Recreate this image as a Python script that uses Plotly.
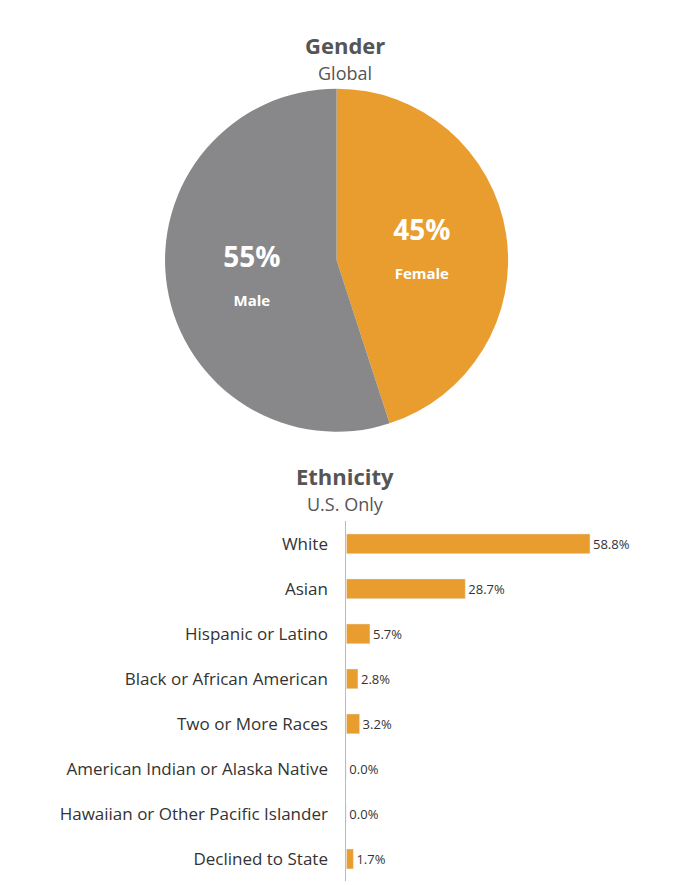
import plotly.graph_objects as go

gender_labels = ["Female", "Male"]
gender_values = [45, 55]
gender_colors = ["#E89D2E", "#88888A"]

eth_categories = ["White", "Asian", "Hispanic or Latino", "Black or African American",
                  "Two or More Races", "American Indian or Alaska Native",
                  "Hawaiian or Other Pacific Islander", "Declined to State"]
eth_values = [58.8, 28.7, 5.7, 2.8, 3.2, 0.0, 0.0, 1.7]

fig = go.Figure()
fig.add_trace(go.Pie(
    labels=gender_labels, values=gender_values, sort=False, direction="clockwise",
    rotation=0, marker=dict(colors=gender_colors, line=dict(width=0)),
    texttemplate="<span style='font-size:28px'><b>%{percent:.0%}</b></span><br><br><b>%{label}</b>",
    textposition="inside", insidetextorientation="horizontal",
    textfont=dict(color="white", size=15, family="Open Sans"),
    domain=dict(x=[0.233, 0.742], y=[0.52, 0.91]), showlegend=False, hoverinfo="skip"))

fig.add_trace(go.Bar(
    y=eth_categories, x=eth_values, orientation="h", marker_color="#E89D2E",
    text=[f"{v:.1f}%" for v in eth_values], textposition="outside",
    textfont=dict(size=13, color="#333"), cliponaxis=False, showlegend=False,
    xaxis="x", yaxis="y"))

fig.update_layout(
    width=674, height=885, margin=dict(l=0, r=0, t=0, b=0),
    paper_bgcolor="white", plot_bgcolor="white",
    font=dict(family="Open Sans", color="#333"),
    bargap=0.56,
    xaxis=dict(domain=[0.502, 1.0], range=[0, 81], visible=False),
    yaxis=dict(domain=[0.013, 0.42], autorange="reversed", showline=True,
               linecolor="#BBBBBB", linewidth=1, ticks="", ticklen=0,
               ticklabelstandoff=14,
               tickfont=dict(size=17, color="#333"), showgrid=False),
)
for txt, ypix, size in [("<b>Gender</b>", 37, 22), ("Global", 65, 18),
                        ("<b>Ethnicity</b>", 468, 22), ("U.S. Only", 496, 18)]:
    fig.add_annotation(text=txt, x=0.5, y=1 - ypix / 885, xref="paper", yref="paper",
                       showarrow=False, font=dict(size=size, color="#555555"),
                       yanchor="middle")

fig.write_html("out.html")
